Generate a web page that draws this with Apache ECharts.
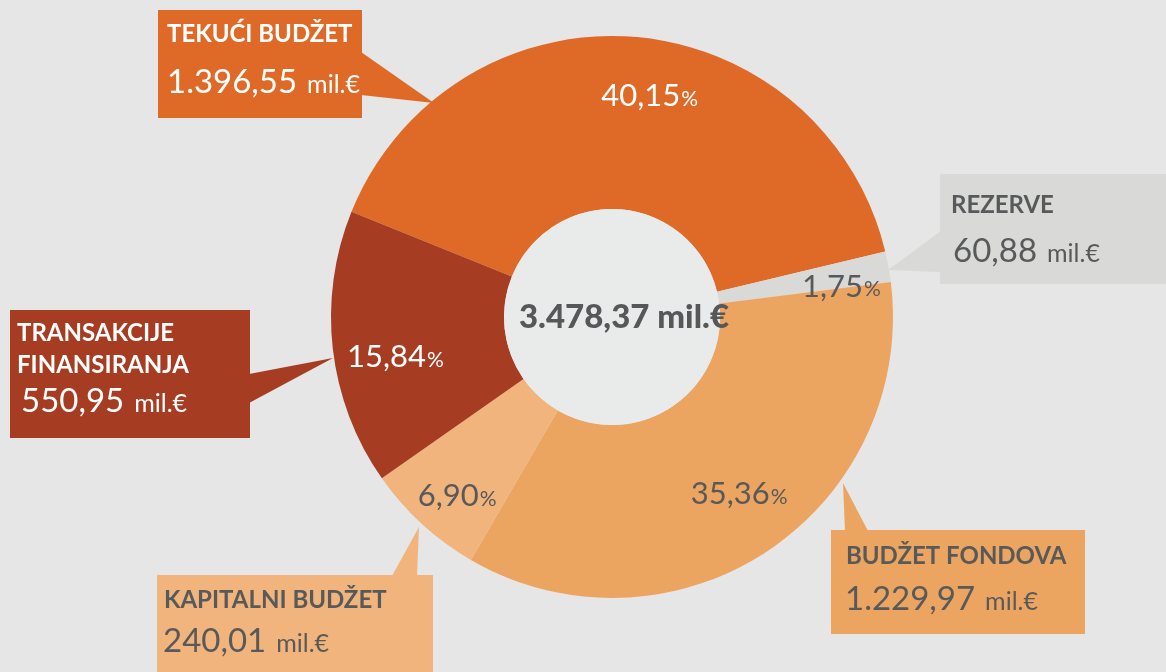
<!DOCTYPE html>
<html>
<head>
<meta charset="utf-8">
<script src="https://cdn.jsdelivr.net/npm/echarts@6/dist/echarts.min.js"></script>
<style>
  html, body { margin: 0; padding: 0; background: #e6e6e6; }
  #main { width: 1166px; height: 672px; }
</style>
</head>
<body>
<div id="main"></div>
<script>
// podaci
var names = ['TEKUĆI BUDŽET', 'REZERVE', 'BUDŽET FONDOVA', 'KAPITALNI BUDŽET', 'TRANSAKCIJE\nFINANSIRANJA'];
var values = [1396.55, 60.88, 1229.97, 240.01, 550.95];
var percents = [40.15, 1.75, 35.36, 6.90, 15.84];
var total = 3478.37;
var unit = 'mil.€';

var colors = ['#df6a27', '#d9d9d7', '#eba561', '#f0b47c', '#a63d22'];
var textColors = ['#ffffff', '#58595b', '#58595b', '#58595b', '#ffffff'];
var FONT = 'Lato, "Open Sans", sans-serif';

// 1234.5 -> 1.234,50
function fmt(v) {
    var parts = v.toFixed(2).split('.');
    var intPart = parts[0].replace(/\B(?=(\d{3})+(?!\d))/g, '.');
    return intPart + ',' + parts[1];
}

// polozaj oblacica (kutija, strelica, tekst)
var callouts = [
    { box: [158, 10, 204, 108], wedge: [[361, 52], [361, 95], [434, 103]], tx: 167, ty: 34, vx: 167, vy: 79 },
    { box: [940, 174, 226, 110], wedge: [[941, 231], [941, 272], [888, 270]], tx: 951, ty: 205, vx: 953, vy: 248 },
    { box: [831, 530, 254, 104], wedge: [[845, 531], [868, 531], [843, 483]], tx: 846, ty: 556, vx: 845, vy: 596 },
    { box: [157, 575, 276, 97], wedge: [[392, 576], [417, 576], [419, 527]], tx: 164, ty: 600, vx: 163, vy: 638 },
    { box: [10, 310, 240, 128], wedge: [[249, 374], [249, 403], [333, 358]], tx: 17, ty: 349, vx: 21, vy: 398 }
];
var labelOffsets = [[21, -3], [10, 5], [4, -13], [-4, 10], [5, 10]];

var graphics = [];
callouts.forEach(function (c, i) {
    graphics.push({
        type: 'rect', z: 10,
        shape: { x: c.box[0], y: c.box[1], width: c.box[2], height: c.box[3] },
        style: { fill: colors[i] }
    });
    graphics.push({
        type: 'polygon', z: 10,
        shape: { points: c.wedge },
        style: { fill: colors[i] }
    });
    graphics.push({
        type: 'text', z: 11, x: c.tx, y: c.ty,
        style: {
            text: names[i], fill: textColors[i],
            font: 'bold 24px ' + FONT, lineHeight: 32,
            align: 'left', verticalAlign: 'middle', textAlign: 'left', textVerticalAlign: 'middle'
        }
    });
    graphics.push({
        type: 'text', z: 11, x: c.vx, y: c.vy,
        style: {
            text: '{v|' + fmt(values[i]) + '}{u|' + unit + '}',
            fill: textColors[i],
            align: 'left', verticalAlign: 'middle', textAlign: 'left', textVerticalAlign: 'middle',
            rich: {
                v: { fontSize: 33, fontFamily: FONT, fill: textColors[i], color: textColors[i], verticalAlign: 'bottom', lineHeight: 40 },
                u: { fontSize: 25, fontFamily: FONT, fill: textColors[i], color: textColors[i], verticalAlign: 'bottom', lineHeight: 40, padding: [0, 0, 2, 10] }
            }
        }
    });
});

var mainData = names.map(function (n, i) {
    return { name: n, value: values[i], itemStyle: { color: colors[i] } };
});
var labelData = names.map(function (n, i) {
    return {
        name: n, value: values[i],
        itemStyle: { color: 'rgba(0,0,0,0)' },
        label: {
            offset: labelOffsets[i],
            formatter: '{n|' + fmt(percents[i]) + '}{p|%}',
            rich: {
                n: { fontSize: 31, fontFamily: FONT, color: textColors[i], verticalAlign: 'bottom', lineHeight: 40 },
                p: { fontSize: 21, fontFamily: FONT, color: textColors[i], verticalAlign: 'bottom', lineHeight: 40, padding: [0, 0, 2, 1] }
            }
        }
    };
});

var option = {
    backgroundColor: '#e6e6e6',
    animation: false,
    graphic: graphics,
    series: [
        {
            type: 'pie',
            center: [612, 317],
            radius: [108, 281],
            startAngle: 158,
            clockwise: true,
            silent: true,
            label: { show: false },
            labelLine: { show: false },
            data: mainData
        },
        {
            type: 'pie',
            center: [612, 317],
            radius: [160, 280],
            startAngle: 158,
            clockwise: true,
            silent: true,
            z: 5,
            label: { show: true, position: 'inside', rotate: 0 },
            labelLine: { show: false },
            data: labelData
        },
        {
            type: 'pie',
            center: [612, 317],
            radius: [0, 108],
            silent: true,
            label: {
                show: true, position: 'center',
                formatter: fmt(total) + ' ' + unit,
                fontFamily: FONT, fontWeight: 900, fontSize: 33, color: '#555759',
                padding: [0, 0, 0, 24]
            },
            labelLine: { show: false },
            data: [{ value: total, itemStyle: { color: '#e9eaea' } }]
        }
    ]
};

var myChart = echarts.init(document.getElementById('main'));
myChart.setOption(option);
</script>
</body>
</html>
